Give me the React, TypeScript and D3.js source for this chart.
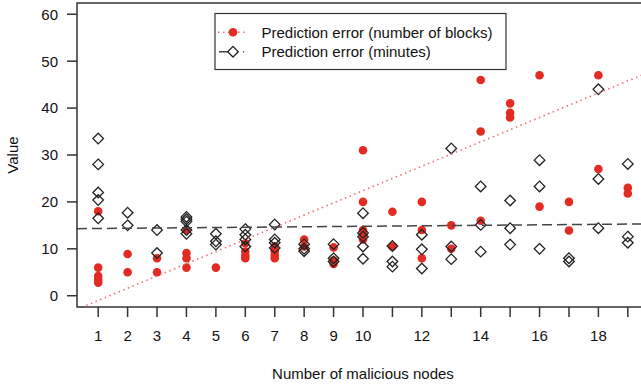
import React from 'react'
import * as d3 from 'd3'

// prediction error measured in blocks (red dots)
const blockNodes = [1, 1, 1, 1, 1, 2, 2, 3, 3, 4, 4, 4, 4, 5, 6, 6, 6, 6, 7, 7, 7, 7, 8, 8, 9, 9, 9,
  10, 10, 10, 10, 10, 11, 11, 12, 12, 12, 13, 13, 14, 14, 14, 15, 15, 15, 16, 16, 17, 17, 18, 18, 19, 19]
const blockErrors = [18, 6, 4.2, 3.4, 2.8, 8.9, 5, 8, 5, 14, 9.1, 8, 6, 6, 11.2, 9.4, 8.5, 8, 10.5, 9.5, 8.7, 8, 12, 10.5, 10.3, 7.5, 6.8,
  31, 20, 14, 13, 12, 17.9, 10.5, 20, 14, 8, 15, 10, 46, 35, 16, 41, 39, 38, 47, 19, 20, 13.9, 47, 27, 23, 21.8]

// prediction error measured in minutes (open diamonds)
const minuteNodes = [1, 1, 1, 1, 1, 2, 2, 3, 3, 4, 4, 4, 4, 4, 5, 5, 5, 6, 6, 6, 6, 7, 7, 7, 7, 8, 8, 8, 9, 9, 9,
  10, 10, 10, 10, 10, 11, 11, 11, 12, 12, 12, 13, 13, 13, 14, 14, 14, 15, 15, 15, 16, 16, 16, 17, 17, 18, 18, 18, 19, 19, 19]
const minuteErrors = [33.5, 28, 22, 20.4, 16.5, 17.7, 15, 14, 9.1, 16.8, 16.3, 15.8, 14, 13.2, 13.2, 11.6, 10.9, 14.2, 13, 12, 10.5, 15.2, 12, 11.3, 10.2, 11, 10, 9.5, 11, 8, 7.3,
  17.6, 13.4, 12.6, 10.5, 7.9, 10.6, 7.3, 6.2, 13, 9.9, 5.8, 31.4, 10.5, 7.8, 23.3, 15.1, 9.4, 20.3, 14.4, 10.9, 28.9, 23.3, 10, 8, 7.3, 44, 24.9, 14.4, 28.1, 12.6, 11.3]

// fitted trend lines (intercept, slope)
const blockFit = [-3.6, 2.6]
const minuteFit = [14.28, 0.052]

const yTicks = [0, 10, 20, 30, 40, 50, 60]
const xTicks = d3.range(1, 20)
const xLabels = [1, 2, 3, 4, 5, 6, 7, 8, 9, 10, 12, 14, 16, 18]
const legendLabels = ['Prediction error (number of blocks)', 'Prediction error (minutes)']

const W = 641
const H = 387
const left = 77
const right = 649
const top = 3
const bottom = 307
const red = '#e22b22'
const ink = '#333'
const font = '"Liberation Sans", Arial, Helvetica, sans-serif'

export default function App() {
  const x = d3.scaleLinear().domain([0.28, 19.72]).range([left, right])
  const y = d3.scaleLinear().domain([-2.4, 62.4]).range([bottom, top])

  const fitLine = (fit: number[]) =>
    d3.line<number>()
      .x((d) => x(d))
      .y((d) => y(fit[0] + fit[1] * d))(x.domain())

  const diamond = (cx: number, cy: number, r: number) =>
    `M${cx},${cy - r}L${cx + r},${cy}L${cx},${cy + r}L${cx - r},${cy}Z`

  return (
    <div style={{ position: 'absolute', left: 0, top: 0 }}>
      <svg width={W} height={H} style={{ display: 'block', fontFamily: font }}>
        <defs>
          <clipPath id="plotArea">
            <rect x={left} y={top} width={right - left} height={bottom - top} />
          </clipPath>
        </defs>
        <rect width={W} height={H} fill="#fff" />

        <g>
          {blockNodes.map((n, i) => (
            <circle key={'b' + i} cx={x(n)} cy={y(blockErrors[i])} r={4.3} fill={red} />
          ))}
          {minuteNodes.map((n, i) => (
            <path key={'m' + i} d={diamond(x(n), y(minuteErrors[i]), 5.3)} fill="none" stroke="#222" strokeWidth={1.3} />
          ))}
        </g>

        <g clipPath="url(#plotArea)">
          <path d={fitLine(blockFit) || ''} stroke="#f07070" strokeWidth={1.6} strokeDasharray="1.5,3.5" fill="none" />
          <path d={fitLine(minuteFit) || ''} stroke="#444" strokeWidth={1.5} strokeDasharray="10,5" fill="none" />
        </g>

        {/* box */}
        <rect x={left} y={top} width={right - left} height={bottom - top} fill="none" stroke={ink} strokeWidth={1.5} />

        {/* y axis */}
        <g>
          {yTicks.map((t) => (
            <g key={t}>
              <line x1={left - 10} x2={left} y1={y(t)} y2={y(t)} stroke={ink} strokeWidth={1.5} />
              <text x={58} y={y(t)} dy="0.36em" textAnchor="end" fontSize={15} fill="#111">{t}</text>
            </g>
          ))}
          <text transform={`translate(18,${(top + bottom) / 2}) rotate(-90)`} textAnchor="middle" fontSize={15} fill="#111">Value</text>
        </g>

        {/* x axis */}
        <g>
          {xTicks.map((t) => (
            <line key={t} x1={x(t)} x2={x(t)} y1={bottom} y2={bottom + 10} stroke={ink} strokeWidth={1.5} />
          ))}
          {xLabels.map((t) => (
            <text key={t} x={x(t)} y={340.5} textAnchor="middle" fontSize={15} fill="#111">{t}</text>
          ))}
          <text x={(left + right) / 2} y={379} textAnchor="middle" fontSize={15} fill="#111">Number of malicious nodes</text>
        </g>

        {/* legend */}
        <g>
          <rect x={215} y={13.5} width={291} height={56} fill="#fff" stroke={ink} strokeWidth={1.2} />
          <line x1={218} x2={248} y1={32.3} y2={32.3} stroke="#f07070" strokeWidth={1.6} strokeDasharray="1.5,3.5" />
          <circle cx={233} cy={32.3} r={4.3} fill={red} />
          <line x1={219} x2={247} y1={51.7} y2={51.7} stroke="#444" strokeWidth={1.5} strokeDasharray="10,14,1,4" />
          <path d={diamond(233, 51.7, 5.3)} fill="#fff" stroke="#222" strokeWidth={1.3} />
          {legendLabels.map((s, i) => (
            <text key={s} x={261.5} y={32.3 + i * 19.4} dy="0.36em" fontSize={15} fill="#111">{s}</text>
          ))}
        </g>
      </svg>
    </div>
  )
}
